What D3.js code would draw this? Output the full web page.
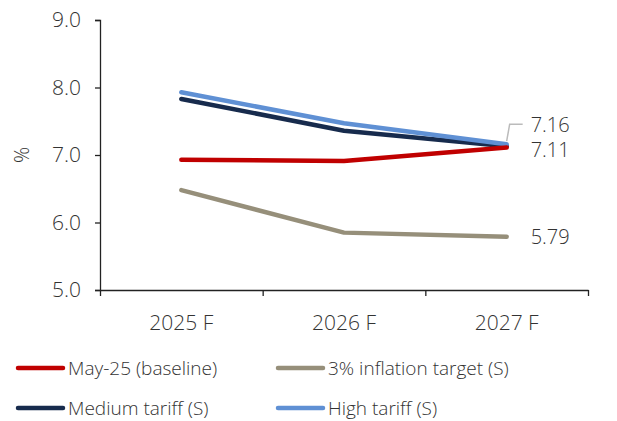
<!DOCTYPE html>
<html>
<head>
<meta charset="utf-8">
<script src="https://cdn.jsdelivr.net/npm/d3@7"></script>
<style>
  body { margin: 0; background: #fff; }
  text { font-family: "Open Sans", "Noto Sans", sans-serif; font-weight: 300; fill: #333; }
</style>
</head>
<body>
<div id="chart"></div>
<script>
const years = ['2025 F', '2026 F', '2027 F'];
const yTicks = [5, 6, 7, 8, 9];

const baseline = [6.93, 6.91, 7.11];
const inflationTarget = [6.48, 5.85, 5.79];
const mediumTariff = [7.83, 7.36, 7.13];
const highTariff = [7.93, 7.47, 7.16];

const series = [
  { name: 'Medium tariff (S)', values: mediumTariff, color: '#172b4d' },
  { name: '3% inflation target (S)', values: inflationTarget, color: '#968f7a' },
  { name: 'High tariff (S)', values: highTariff, color: '#5f90d4' },
  { name: 'May-25 (baseline)', values: baseline, color: '#c00000' },
];

const legendOrder = [
  'May-25 (baseline)', '3% inflation target (S)',
  'Medium tariff (S)', 'High tariff (S)',
];

const width = 617;
const height = 421;
const margin = { top: 20, right: 29, bottom: 131, left: 100 };
const plotW = width - margin.left - margin.right;
const plotH = height - margin.top - margin.bottom;

const svg = d3.select('#chart').append('svg')
  .attr('width', width)
  .attr('height', height);

const plot = svg.append('g')
  .attr('transform', `translate(${margin.left},${margin.top})`);

const x = d3.scaleBand().domain(years).range([0, plotW]);
const y = d3.scaleLinear().domain([5, 9]).range([plotH, 0]);

// y axis
const yAxis = plot.append('g')
  .call(d3.axisLeft(y).tickValues(yTicks).tickFormat(d3.format('.1f')).tickSize(5).tickPadding(14));
yAxis.select('.domain').attr('stroke', '#222').attr('stroke-width', 1.3);
yAxis.selectAll('.tick line').attr('stroke', '#222').attr('stroke-width', 1.3);
yAxis.selectAll('.tick text').style('font-size', '21px').attr('fill', '#333');

// x axis: boundary ticks
const xb = d3.scaleLinear().domain([0, years.length]).range([0, plotW]);
const xAxis = plot.append('g')
  .attr('transform', `translate(0,${plotH})`)
  .call(d3.axisBottom(xb).ticks(years.length).tickFormat('').tickSize(6).tickSizeOuter(0));
xAxis.select('.domain').attr('stroke', '#222').attr('stroke-width', 1.3);
xAxis.selectAll('.tick line').attr('stroke', '#222').attr('stroke-width', 1.3);

plot.append('g')
  .selectAll('text')
  .data(years)
  .join('text')
  .attr('x', (d) => x(d) + x.bandwidth() / 2)
  .attr('y', plotH + 40)
  .attr('text-anchor', 'middle')
  .style('font-size', '21px')
  .text((d) => d);

svg.append('text')
  .attr('transform', `translate(29,${margin.top + y(7)}) rotate(-90)`)
  .attr('text-anchor', 'middle')
  .style('font-size', '20px')
  .text('%');

// lines
const line = d3.line()
  .x((d, i) => x(years[i]) + x.bandwidth() / 2)
  .y((d) => y(d));

plot.append('g')
  .selectAll('path')
  .data(series)
  .join('path')
  .attr('d', (d) => line(d.values))
  .attr('fill', 'none')
  .attr('stroke', (d) => d.color)
  .attr('stroke-width', 4.5)
  .attr('stroke-linecap', 'round')
  .attr('stroke-linejoin', 'round');

// end labels
const lastX = x(years[2]) + x.bandwidth() / 2;
const hi = highTariff[2];
plot.append('path')
  .attr('d', `M${lastX},${y(hi) - 3} L${lastX + 3},${y(hi) - 20} L${lastX + 16},${y(hi) - 20}`)
  .attr('fill', 'none')
  .attr('stroke', '#bbb')
  .attr('stroke-width', 1.5);

const endLabels = [
  { v: highTariff[2], dy: -19 },
  { v: baseline[2], dy: 2 },
  { v: inflationTarget[2], dy: 0 },
];
plot.append('g')
  .selectAll('text')
  .data(endLabels)
  .join('text')
  .attr('x', lastX + 24)
  .attr('y', (d) => y(d.v) + d.dy)
  .attr('dy', '0.35em')
  .style('font-size', '20px')
  .text((d) => d3.format('.2f')(d.v));

// legend
const legend = svg.append('g');
const items = legendOrder.map((n) => series.find((s) => s.name === n));
const legendItem = legend.selectAll('g')
  .data(items)
  .join('g')
  .attr('transform', (d, i) => `translate(${i % 2 === 0 ? 18 : 278},${i < 2 ? 368 : 408})`);
legendItem.append('line')
  .attr('x1', 0).attr('x2', 45)
  .attr('stroke', (d) => d.color)
  .attr('stroke-width', 4.5)
  .attr('stroke-linecap', 'round');
legendItem.append('text')
  .attr('x', 50)
  .attr('dy', '0.35em')
  .style('font-size', '19px')
  .text((d) => d.name);
</script>
</body>
</html>
